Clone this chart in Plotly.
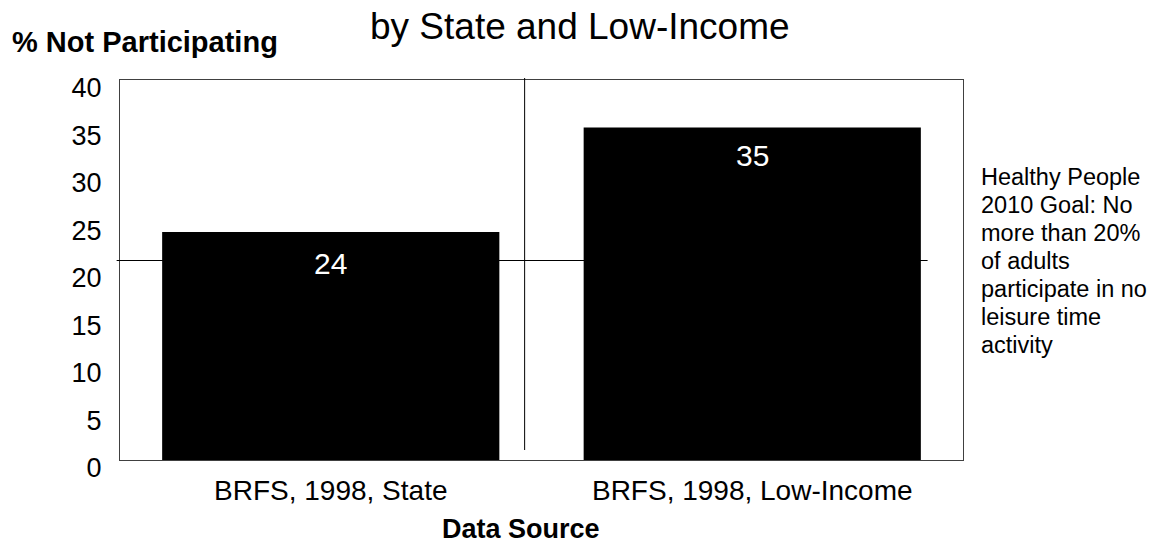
import plotly.graph_objects as go

categories = ["BRFS, 1998, State", "BRFS, 1998, Low-Income"]
values = [24, 35]
bar_labels = ["24", "35"]
y_ticks = [0, 5, 10, 15, 20, 25, 30, 35, 40]
goal_value = 21
note_lines = ["Healthy People", "2010 Goal: No", "more than 20%", "of adults",
              "participate in no", "leisure time", "activity"]
title_text = "by State and Low-Income"
y_label = "% Not Participating"
x_label = "Data Source"

FONT = "Liberation Sans, Arial, sans-serif"

# plot area geometry (pixels) used to place paper-referenced text
PLOT_TOP, PLOT_BOTTOM = 80, 460

fig = go.Figure()
fig.add_trace(go.Bar(
    x=categories, y=values,
    marker=dict(color="black", line=dict(width=0)),
    hoverinfo="x+y",
))

annotations = []
for c, v, t, ys in zip(categories, values, bar_labels, [-13, -9]):
    annotations.append(dict(x=c, y=v, xref="x", yref="y", text=t, showarrow=False,
                            yanchor="top", yshift=ys,
                            font=dict(family=FONT, size=30, color="white")))

def py(pix):
    return (PLOT_BOTTOM - pix) / (PLOT_BOTTOM - PLOT_TOP)

annotations += [
    dict(xref="paper", yref="paper", x=-0.131, y=py(42), xanchor="left", yanchor="middle",
         text="<b>" + y_label + "</b>", showarrow=False,
         font=dict(family=FONT, size=29, color="black")),
    dict(xref="paper", yref="paper", x=0.5457, y=py(26), xanchor="center", yanchor="middle",
         text=title_text, showarrow=False,
         font=dict(family=FONT, size=37, color="black")),
    dict(xref="paper", yref="paper", x=0.476, y=py(529), xanchor="center", yanchor="middle",
         text="<b>" + x_label + "</b>", showarrow=False,
         font=dict(family=FONT, size=27, color="black")),
]
for i, line in enumerate(note_lines):
    annotations.append(dict(xref="paper", yref="paper", x=1.0195, y=py(177 + 28 * i),
                            xanchor="left", yanchor="middle", text=line, showarrow=False,
                            align="left", font=dict(family=FONT, size=23.5, color="black")))

shapes = [
    dict(type="line", xref="paper", yref="y", x0=-0.004, x1=0.958,
         y0=goal_value, y1=goal_value, line=dict(color="black", width=1)),
    dict(type="line", xref="paper", yref="paper", x0=0.480, x1=0.480,
         y0=py(450), y1=py(78), line=dict(color="black", width=1)),
]

fig.update_layout(
    width=1159, height=544,
    margin=dict(l=120, r=196, t=80, b=84),
    paper_bgcolor="white", plot_bgcolor="white",
    font=dict(family=FONT, color="black"),
    bargap=0.2,
    showlegend=False,
    annotations=annotations,
    shapes=shapes,
)
fig.update_xaxes(
    showline=True, mirror=True, linecolor="#404040", linewidth=1,
    ticks="outside", ticklen=5, tickcolor="rgba(0,0,0,0)",
    tickfont=dict(family=FONT, size=28, color="black"),
    showgrid=False,
)
fig.update_yaxes(
    range=[0, 40], tickvals=y_ticks, ticktext=[str(v) for v in y_ticks],
    showline=True, mirror=True, linecolor="#404040", linewidth=1,
    ticks="outside", ticklen=12, tickcolor="rgba(0,0,0,0)",
    tickfont=dict(family=FONT, size=27, color="black"),
    ticklabelshift=8,
    showgrid=False, zeroline=False,
)

fig.write_html("out.html")
